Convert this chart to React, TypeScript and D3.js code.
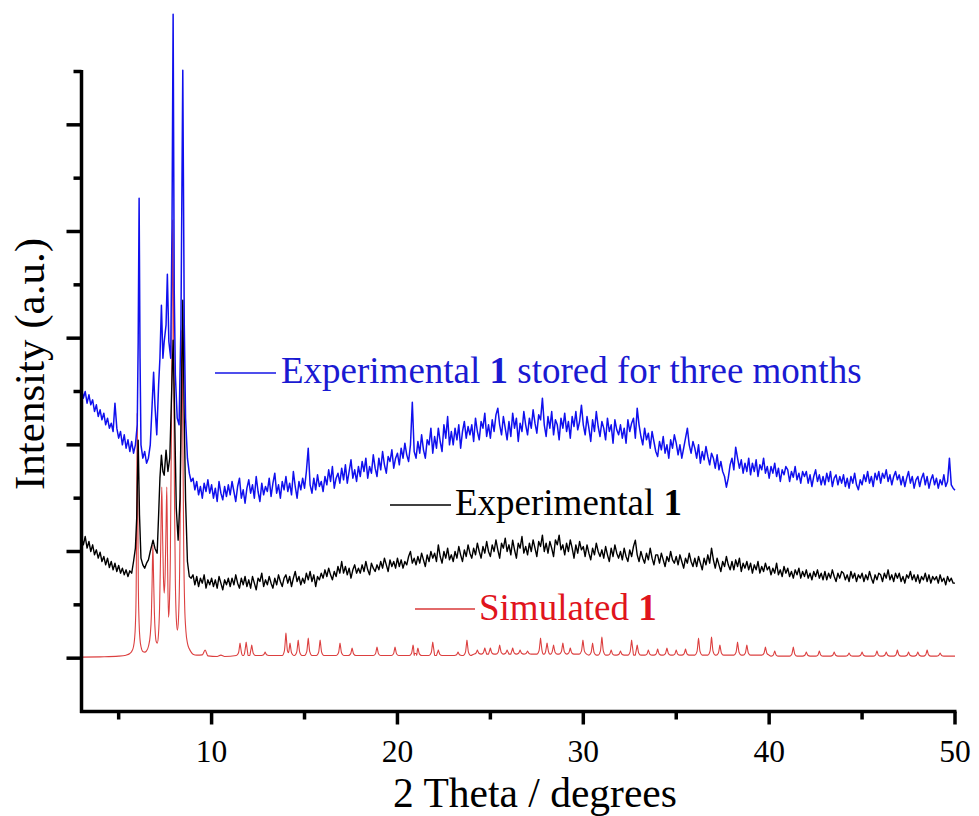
import React from 'react';
import * as d3 from 'd3';

const W = 979;
const H = 816;

// ---- axis ticks ----
const xMajorTicks = [10, 20, 30, 40, 50];
const xMinorTicks = [5, 15, 25, 35, 45];
const yMajorTicks = [0, 320, 640, 960, 1280, 1600];
const yMinorTicks = [160, 480, 800, 1120, 1440, 1760];

const xTitle = '2 Theta / degrees';
const yTitle = 'Intensity (a.u.)';

// ---- series names ----
const seriesNames = ['Experimental ', 'Experimental ', 'Simulated '];
const seriesSuffix = ['1', '1', '1'];
const seriesTail = [' stored for three months', '', ''];

// ---- Experimental 1 stored for three months (blue), 3-8.9 deg ----
const blueLow: [number, number][] = [
  [3.0, 810], [3.1, 780], [3.2, 800], [3.3, 765], [3.4, 790], [3.5, 760], [3.6, 775], [3.7, 740], [3.8, 760], [3.9, 725],
  [4.0, 745], [4.1, 715], [4.2, 735], [4.3, 700], [4.4, 720], [4.5, 690], [4.6, 705], [4.7, 680], [4.8, 765], [4.9, 690],
  [5.0, 660], [5.1, 680], [5.2, 640], [5.3, 670], [5.4, 630], [5.5, 655], [5.6, 620], [5.7, 650], [5.8, 615], [5.9, 640],
  [6.0, 700], [6.05, 950], [6.1, 1380], [6.15, 900], [6.2, 640], [6.3, 600], [6.4, 620], [6.5, 585], [6.6, 600], [6.7, 640],
  [6.8, 760], [6.88, 858], [6.95, 760], [7.05, 670], [7.15, 820], [7.22, 900], [7.3, 1059], [7.38, 900], [7.45, 950],
  [7.55, 1000], [7.62, 1152], [7.7, 950], [7.8, 900], [7.87, 1300], [7.93, 1932], [7.99, 1100], [8.05, 850], [8.15, 720],
  [8.25, 700], [8.35, 1000], [8.45, 1764], [8.53, 1000], [8.6, 720], [8.7, 600], [8.8, 555], [8.9, 530],
];
// blue, 9.0-50.0 deg every 0.1 deg
const blueHighStart = 9.0;
const blueHigh = [
  540, 505, 530, 490, 515, 480, 525, 500, 535, 495, // 9
  520, 480, 510, 470, 530, 495, 475, 515, 485, 520, // 10
  490, 530, 500, 470, 515, 540, 480, 505, 465, 510, // 11
  535, 495, 520, 480, 545, 500, 470, 525, 490, 515, // 12
  500, 540, 485, 525, 555, 495, 520, 480, 530, 505, // 13
  545, 500, 525, 490, 560, 515, 480, 530, 505, 540, // 14
  510, 560, 630, 520, 495, 540, 505, 550, 515, 530, // 15
  500, 545, 520, 565, 530, 575, 510, 540, 555, 525, // 16
  570, 535, 580, 525, 560, 595, 540, 565, 530, 575, // 17
  545, 590, 560, 600, 540, 575, 555, 610, 570, 545, // 18
  600, 565, 620, 580, 555, 605, 590, 625, 570, 600, // 19
  615, 580, 630, 600, 645, 610, 590, 640, 768, 620, // 20
  600, 650, 615, 670, 625, 600, 655, 640, 690, 615, // 21
  665, 630, 690, 650, 620, 700, 660, 725, 640, 680, // 22
  640, 690, 655, 700, 630, 680, 710, 660, 695, 670, // 23
  700, 650, 720, 680, 655, 710, 690, 735, 665, 700, // 24
  660, 715, 680, 730, 750, 700, 670, 725, 690, 655, // 25
  710, 665, 735, 690, 720, 650, 705, 680, 740, 700, // 26
  670, 720, 690, 745, 705, 675, 730, 715, 780, 700, // 27
  665, 725, 690, 740, 670, 715, 700, 655, 720, 690, // 28
  735, 680, 710, 660, 725, 695, 740, 685, 710, 759, // 29
  700, 670, 725, 690, 650, 715, 680, 740, 695, 665, // 30
  710, 690, 655, 720, 680, 700, 645, 715, 685, 670, // 31
  700, 660, 690, 645, 715, 680, 705, 720, 660, 750, // 32
  700, 665, 640, 690, 655, 675, 630, 680, 650, 620, // 33
  605, 650, 625, 665, 615, 640, 600, 655, 630, 670, // 34
  645, 610, 640, 600, 630, 660, 690, 640, 615, 650, // 35
  630, 600, 640, 585, 620, 595, 635, 605, 580, 615, // 36
  600, 570, 610, 565, 590, 560, 545, 513, 540, 580, // 37
  600, 565, 633, 600, 570, 595, 555, 585, 560, 600, // 38
  550, 585, 560, 595, 545, 580, 565, 600, 555, 575, // 39
  540, 575, 555, 585, 545, 570, 530, 565, 550, 575, // 40
  565, 530, 560, 543, 575, 535, 555, 525, 560, 545, // 41
  560, 525, 550, 515, 545, 565, 530, 550, 520, 545, // 42
  520, 555, 530, 560, 515, 540, 550, 520, 545, 525, // 43
  550, 515, 540, 510, 545, 525, 555, 520, 505, 535, // 44
  520, 550, 530, 560, 525, 545, 515, 555, 535, 560, // 45
  525, 555, 540, 565, 530, 550, 520, 545, 560, 535, // 46
  550, 520, 545, 515, 540, 560, 525, 545, 510, 535, // 47
  545, 515, 540, 555, 520, 545, 510, 535, 550, 520, // 48
  540, 510, 535, 520, 550, 515, 530, 600, 520, 510, // 49
  504, // 50
];

// ---- Experimental 1 (black), 3-8.9 deg ----
const blackLow: [number, number][] = [
  [3.0, 363], [3.1, 340], [3.2, 365], [3.3, 330], [3.4, 350], [3.5, 320], [3.6, 340], [3.7, 310], [3.8, 325], [3.9, 300],
  [4.0, 318], [4.1, 290], [4.2, 305], [4.3, 280], [4.4, 300], [4.5, 272], [4.6, 290], [4.7, 265], [4.8, 285], [4.9, 260],
  [5.0, 278], [5.1, 255], [5.2, 270], [5.3, 250], [5.4, 265], [5.5, 245], [5.6, 262], [5.7, 255], [5.8, 290], [5.9, 330],
  [5.97, 420], [6.05, 654], [6.12, 430], [6.2, 300], [6.3, 280], [6.4, 270], [6.5, 285], [6.6, 295], [6.7, 320],
  [6.85, 354], [6.95, 330], [7.07, 315], [7.15, 430], [7.22, 540], [7.3, 609], [7.38, 560], [7.45, 549], [7.55, 624],
  [7.65, 560], [7.75, 600], [7.85, 800], [7.93, 954], [8.0, 760], [8.1, 450], [8.2, 354], [8.3, 480], [8.38, 800],
  [8.45, 1074], [8.52, 750], [8.6, 474], [8.7, 290], [8.8, 245], [8.9, 240],
];
// black, 9.0-50.0 deg every 0.1 deg
const blackHighStart = 9.0;
const blackHigh = [
  250, 220, 245, 215, 240, 225, 250, 210, 235, 220, // 9
  240, 215, 235, 210, 245, 225, 205, 235, 220, 240, // 10
  215, 240, 220, 250, 225, 210, 240, 220, 245, 215, // 11
  235, 210, 245, 225, 205, 240, 230, 255, 215, 235, // 12
  220, 245, 225, 210, 240, 220, 250, 230, 215, 240, // 13
  250, 225, 245, 215, 240, 260, 230, 245, 220, 240, // 14
  225, 255, 235, 260, 230, 250, 215, 245, 235, 255, // 15
  240, 265, 245, 270, 250, 235, 260, 245, 275, 255, // 16
  290, 255, 275, 250, 270, 240, 265, 280, 255, 270, // 17
  255, 280, 260, 290, 265, 250, 285, 270, 260, 280, // 18
  265, 290, 270, 300, 280, 260, 295, 275, 290, 270, // 19
  300, 275, 295, 270, 290, 280, 305, 320, 285, 300, // 20
  280, 305, 285, 315, 295, 275, 310, 290, 320, 300, // 21
  315, 290, 340, 305, 285, 320, 300, 330, 295, 310, // 22
  290, 320, 300, 335, 310, 290, 325, 305, 340, 315, // 23
  300, 330, 310, 345, 320, 300, 335, 315, 350, 320, // 24
  305, 340, 320, 355, 325, 300, 345, 330, 360, 320, // 25
  340, 310, 354, 325, 300, 345, 330, 365, 315, 335, // 26
  310, 345, 320, 355, 330, 305, 350, 335, 369, 320, // 27
  345, 315, 350, 330, 305, 355, 340, 369, 325, 340, // 28
  310, 345, 320, 355, 330, 300, 340, 315, 350, 325, // 29
  335, 305, 340, 315, 295, 330, 310, 345, 320, 305, // 30
  325, 300, 335, 310, 290, 330, 305, 340, 315, 300, // 31
  320, 295, 330, 305, 290, 325, 305, 335, 354, 310, // 32
  290, 320, 300, 285, 315, 295, 330, 300, 280, 310, // 33
  310, 285, 315, 295, 275, 305, 290, 320, 295, 285, // 34
  305, 280, 310, 290, 270, 300, 285, 315, 290, 275, // 35
  300, 275, 305, 285, 265, 300, 280, 310, 285, 330, // 36
  295, 270, 300, 280, 260, 290, 275, 305, 280, 265, // 37
  290, 265, 295, 275, 300, 260, 285, 270, 290, 265, // 38
  285, 255, 280, 265, 290, 255, 275, 260, 285, 265, // 39
  275, 250, 270, 255, 285, 250, 265, 245, 275, 255, // 40
  270, 245, 260, 240, 265, 250, 270, 240, 260, 245, // 41
  265, 240, 255, 235, 260, 245, 265, 240, 255, 235, // 42
  260, 235, 255, 240, 265, 245, 230, 255, 240, 260, // 43
  255, 235, 250, 230, 260, 240, 255, 230, 250, 240, // 44
  255, 230, 250, 235, 260, 240, 225, 250, 235, 255, // 45
  250, 230, 255, 240, 265, 235, 250, 230, 255, 240, // 46
  255, 230, 245, 225, 250, 240, 260, 235, 250, 230, // 47
  250, 225, 245, 235, 255, 230, 250, 225, 245, 235, // 48
  245, 225, 250, 230, 240, 220, 245, 230, 240, 225, // 49
  225, // 50
];
const highStep = 0.1;

// ---- Simulated 1 (red) ----
const redMain: [number, number][] = [
  [3.0, 3], [4.0, 4], [5.0, 6], [5.4, 9], [5.6, 14], [5.7, 20], [5.8, 35], [5.85, 55], [5.9, 100], [5.94, 200],
  [5.97, 420], [6.0, 735], [6.03, 430], [6.06, 210], [6.1, 105], [6.15, 55], [6.2, 35], [6.3, 20], [6.4, 18],
  [6.5, 22], [6.6, 35], [6.7, 70], [6.76, 130], [6.8, 230], [6.84, 339], [6.88, 240], [6.92, 140], [6.97, 75],
  [7.02, 50], [7.08, 45], [7.14, 70], [7.2, 150], [7.26, 330], [7.32, 513], [7.36, 380], [7.41, 240], [7.45, 195],
  [7.5, 250], [7.55, 400], [7.59, 513], [7.63, 300], [7.68, 123], [7.72, 150], [7.78, 300], [7.84, 700],
  [7.88, 1100], [7.91, 1314], [7.95, 1050], [8.0, 500], [8.05, 230], [8.1, 120], [8.16, 84], [8.22, 120],
  [8.28, 260], [8.34, 600], [8.4, 984], [8.45, 700], [8.5, 330], [8.55, 160], [8.62, 80], [8.7, 45], [8.8, 28],
  [8.9, 18], [9.0, 12], [9.2, 9], [9.5, 10], [9.65, 24], [9.8, 7], [10.3, 5], [10.5, 9], [10.7, 5],
];
// small reflections: [2theta, intensity] tops
const redPeaks: [number, number][] = [
  [11.53, 45], [11.86, 48], [12.16, 39], [12.88, 18], [14.0, 75], [14.22, 45], [14.66, 54], [15.2, 60],
  [15.84, 54], [16.91, 45], [17.56, 30], [18.9, 33], [19.87, 33], [20.84, 39], [21.1, 30], [21.9, 48],
  [22.2, 24], [23.26, 18], [23.74, 54], [24.3, 24], [24.7, 30], [25.0, 30], [25.5, 39], [25.9, 24],
  [26.2, 30], [26.6, 24], [27.0, 21], [27.7, 60], [28.05, 45], [28.4, 39], [28.9, 45], [29.3, 30],
  [29.98, 54], [30.5, 45], [31.0, 63], [31.5, 24], [32.0, 21], [32.6, 54], [32.9, 39], [33.5, 24],
  [34.0, 27], [34.5, 30], [35.0, 24], [35.5, 27], [36.2, 60], [36.9, 63], [37.35, 39], [38.3, 48],
  [38.8, 39], [39.8, 33], [40.3, 21], [41.3, 33], [42.0, 18], [42.7, 21], [43.5, 18], [44.3, 15],
  [45.0, 18], [45.8, 21], [46.3, 18], [46.9, 24], [47.5, 18], [48.0, 18], [48.5, 24], [49.2, 15],
];
// background level between the small reflections
const redBaseBreaks: [number, number][] = [
  [11.0, 5], [24.0, 8], [30.0, 12], [40.0, 9], [50.0, 6],
];

function baseAt(t: number): number {
  for (const [lim, v] of redBaseBreaks) if (t <= lim) return v;
  return redBaseBreaks[redBaseBreaks.length - 1][1];
}

function buildRed(): [number, number][] {
  const pts: [number, number][] = [...redMain];
  for (const [t, v] of redPeaks) {
    const b = baseAt(t);
    const h = v - b;
    pts.push(
      [t - 0.2, b],
      [t - 0.08, b + h * 0.22],
      [t - 0.03, b + h * 0.7],
      [t, v],
      [t + 0.03, b + h * 0.7],
      [t + 0.08, b + h * 0.22],
      [t + 0.2, b],
    );
  }
  pts.push([50.0, 6]);
  pts.sort((a, b) => a[0] - b[0]);
  const out: [number, number][] = [];
  for (const p of pts) {
    if (out.length && p[0] <= out[out.length - 1][0] + 0.015) {
      if (p[1] > out[out.length - 1][1]) out[out.length - 1] = p;
      continue;
    }
    out.push(p);
  }
  return out;
}

const blueSeries: [number, number][] = [
  ...blueLow,
  ...blueHigh.map((v, i) => [blueHighStart + i * highStep, v] as [number, number]),
];
const blackSeries: [number, number][] = [
  ...blackLow,
  ...blackHigh.map((v, i) => [blackHighStart + i * highStep, v] as [number, number]),
];
const redSeries = buildRed();

const FONT = '"Liberation Serif", "Times New Roman", serif';

export default function App() {
  const x = d3.scaleLinear().domain([3, 50]).range([81.5, 955]);
  const y = d3.scaleLinear().domain([-160, 1760]).range([711.5, 71.5]);

  const line = d3
    .line<[number, number]>()
    .x((d) => x(d[0]))
    .y((d) => y(d[1]));
  const smooth = d3
    .line<[number, number]>()
    .x((d) => x(d[0]))
    .y((d) => y(d[1]))
    .curve(d3.curveMonotoneX);

  const x0 = x(3);
  const yBottom = y(-160);
  const yTop = y(1760);

  const legend = [
    { color: '#1414e6', text: '#1a1ad2', x1: 215, x2: 276, ly: 373, tx: 281, ty: 383, i: 0 },
    { color: '#000000', text: '#000000', x1: 390, x2: 451, ly: 505, tx: 455, ty: 515, i: 1 },
    { color: '#d83838', text: '#e0141c', x1: 415, x2: 475, ly: 609, tx: 479, ty: 620, i: 2 },
  ];

  return (
    <svg
      width={W}
      height={H}
      viewBox={`0 0 ${W} ${H}`}
      style={{ position: 'absolute', left: 0, top: 0, background: '#fff' }}
      fontFamily={FONT}
    >
      <rect x={0} y={0} width={W} height={H} fill="#fff" />
      {/* data */}
      <path d={smooth(redSeries) || ''} fill="none" stroke="#dc4040" strokeWidth={1.1} />
      <path d={line(blackSeries) || ''} fill="none" stroke="#000" strokeWidth={1.4} strokeLinejoin="round" />
      <path d={line(blueSeries) || ''} fill="none" stroke="#1010ee" strokeWidth={1.5} strokeLinejoin="round" />

      {/* axes */}
      <line x1={x0} y1={yTop - 1.5} x2={x0} y2={yBottom + 1.5} stroke="#000" strokeWidth={3.5} />
      <line x1={x0 - 1.5} y1={yBottom} x2={x(50) + 1.5} y2={yBottom} stroke="#000" strokeWidth={3.5} />
      {yMajorTicks.map((t) => (
        <line key={'ym' + t} x1={x0 - 15} x2={x0} y1={y(t)} y2={y(t)} stroke="#000" strokeWidth={3.5} />
      ))}
      {yMinorTicks.map((t) => (
        <line key={'yn' + t} x1={x0 - 8} x2={x0} y1={y(t)} y2={y(t)} stroke="#000" strokeWidth={3.5} />
      ))}
      {xMajorTicks.map((t) => (
        <line key={'xm' + t} x1={x(t)} x2={x(t)} y1={yBottom} y2={yBottom + 13} stroke="#000" strokeWidth={3.5} />
      ))}
      {xMinorTicks.map((t) => (
        <line key={'xn' + t} x1={x(t)} x2={x(t)} y1={yBottom} y2={yBottom + 8} stroke="#000" strokeWidth={3.5} />
      ))}
      {xMajorTicks.map((t) => (
        <text key={'xl' + t} x={x(t)} y={761.5} fontSize={31.5} textAnchor="middle" fill="#000">
          {t}
        </text>
      ))}

      {/* axis titles */}
      <text x={535} y={807} fontSize={41.5} textAnchor="middle" fill="#000">
        {xTitle}
      </text>
      <text transform="translate(44,364) rotate(-90)" fontSize={43} textAnchor="middle" fill="#000">
        {yTitle}
      </text>

      {/* legend */}
      {legend.map((l) => (
        <g key={'lg' + l.i}>
          <line x1={l.x1} x2={l.x2} y1={l.ly} y2={l.ly} stroke={l.color} strokeWidth={1.3} />
          <text x={l.tx} y={l.ty} fontSize={37} fill={l.text}>
            {seriesNames[l.i]}
            <tspan fontWeight="bold">{seriesSuffix[l.i]}</tspan>
            {seriesTail[l.i]}
          </text>
        </g>
      ))}
    </svg>
  );
}
